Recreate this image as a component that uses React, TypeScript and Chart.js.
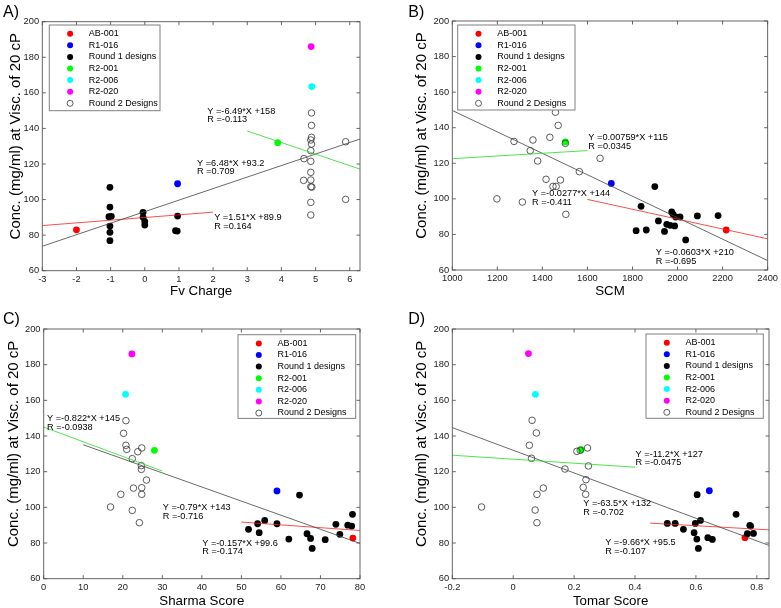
import { useEffect, useRef } from 'react';
import { Chart, registerables } from 'chart.js';

Chart.register(...registerables);

type Pt = [number, number];

// ---------- shared ----------
const LEGEND_LABELS = ['AB-001', 'R1-016', 'Round 1 designs', 'R2-001', 'R2-006', 'R2-020', 'Round 2 Designs'];
const MARKER_COLORS = ['#ff0000', '#0000ff', '#000000', '#00ff00', '#00ffff', '#ff00ff', '#333333'];
const FIT_COLORS = ['#22dd22', '#444444', '#ff2020']; // round 2 fit, all-data fit, round 1 fit
const Y_TICKS = [60, 80, 100, 120, 140, 160, 180, 200];
const Y_TICK_LABELS = ['60', '80', '100', '120', '140', '160', '180', '200'];
const Y_TITLE = 'Conc. (mg/ml) at Visc. of 20 cP';

// ---------- Panel A: Fv Charge ----------
const A_X_TICKS = [-3, -2, -1, 0, 1, 2, 3, 4, 5, 6];
const A_X_TICK_LABELS = ['-3', '-2', '-1', '0', '1', '2', '3', '4', '5', '6'];
const A_AB001: Pt[] = [[-2, 83]];
const A_R1016: Pt[] = [[0.96, 108.9]];
const A_ROUND1: Pt[] = [
  [-1.02, 106.9], [-1.02, 95.8], [-1.05, 90.4], [-0.98, 90.6], [-1.02, 85.1], [-1.02, 81.6], [-1.02, 76.9],
  [-0.05, 92.8], [-0.05, 90], [0, 87.6], [0, 85.7], [0.96, 90.7], [0.9, 82.5], [0.95, 82.3],
];
const A_R2001: Pt[] = [[3.89, 132]];
const A_R2006: Pt[] = [[4.89, 163.5]];
const A_R2020: Pt[] = [[4.87, 186]];
const A_ROUND2: Pt[] = [
  [4.88, 148.7], [4.88, 141.7], [4.88, 135], [4.86, 133.5], [4.88, 131.2], [4.86, 127.5], [4.86, 121.5],
  [4.86, 115.3], [4.86, 111], [4.86, 107.2], [4.89, 107.0], [4.86, 98.4], [4.86, 91.3], [4.66, 123],
  [4.65, 110.8], [5.88, 132.5], [5.88, 100.1],
];
const A_FIT_SLOPES = [-6.49, 6.48, 1.51];
const A_FIT_INTERCEPTS = [158, 93.2, 89.9];
const A_FIT_R = [-0.113, 0.709, 0.164];
const A_FIT_FROM = [3, -3, -3];
const A_FIT_TO = [6.3, 6.3, 2];

// ---------- Panel B: SCM ----------
const B_X_TICKS = [1000, 1200, 1400, 1600, 1800, 2000, 2200, 2400];
const B_X_TICK_LABELS = ['1000', '1200', '1400', '1600', '1800', '2000', '2200', '2400'];
const B_AB001: Pt[] = [[2216, 82.5]];
const B_R1016: Pt[] = [[1706, 108.7]];
const B_ROUND1: Pt[] = [
  [1816, 82.1], [1838, 95.8], [1861, 82.5], [1899, 106.9], [1915, 87.6], [1942, 81.7], [1952, 85.7],
  [1967, 85.1], [1974, 92.6], [1980, 91.3], [1987, 84.8], [1992, 89.8], [2011, 89.8], [2036, 76.9],
  [2088, 90.4], [2180, 90.6],
];
const B_R2001: Pt[] = [[1502, 132]];
const B_R2006: Pt[] = [];
const B_R2020: Pt[] = [];
const B_ROUND2: Pt[] = [
  [1458, 148.7], [1470, 141.3], [1433, 134.6], [1358, 133.1], [1274, 132.3], [1502, 131.2], [1346, 127.1],
  [1379, 121.3], [1656, 122.8], [1564, 115.3], [1416, 111], [1480, 110.6], [1447, 107], [1461, 107],
  [1198, 100], [1311, 98.2], [1504, 91.3],
];
const B_FIT_SLOPES = [0.00759, -0.0603, -0.0277];
const B_FIT_INTERCEPTS = [115, 210, 144];
const B_FIT_R = [0.0345, -0.695, -0.411];
const B_FIT_FROM = [1000, 1000, 1600];
const B_FIT_TO = [1600, 2400, 2400];

// ---------- Panel C: Sharma Score ----------
const C_X_TICKS = [0, 10, 20, 30, 40, 50, 60, 70, 80];
const C_X_TICK_LABELS = ['0', '10', '20', '30', '40', '50', '60', '70', '80'];
const C_AB001: Pt[] = [[78.2, 82.8]];
const C_R1016: Pt[] = [[59, 109.2]];
const C_ROUND1: Pt[] = [
  [51.8, 87.7], [54.1, 90.8], [54.5, 85.8], [55.9, 92.7], [59, 90.8], [62, 82.2], [64.7, 106.9],
  [66.6, 85.2], [67.5, 82.6], [67.9, 77], [71.2, 81.9], [73.9, 90.5], [74.9, 84.9], [76.9, 90],
  [77.9, 89.5], [78.1, 96.1],
];
const C_R2001: Pt[] = [[28, 132]];
const C_R2006: Pt[] = [[20.7, 163.4]];
const C_R2020: Pt[] = [[22.3, 186]];
const C_ROUND2: Pt[] = [
  [20.8, 148.6], [20.2, 141.5], [20.8, 134.8], [21, 132.5], [23.8, 131.2], [24.8, 133.3], [22.4, 127.3],
  [24.7, 123.4], [24.7, 121.3], [26, 115.3], [22.7, 110.8], [24.8, 111], [24.8, 107.3], [19.5, 107.3],
  [16.9, 100.2], [22.4, 98.3], [24.2, 91.4],
];
const C_FIT_SLOPES = [-0.822, -0.79, -0.157];
const C_FIT_INTERCEPTS = [145, 143, 99.6];
const C_FIT_R = [-0.0938, -0.716, -0.174];
const C_FIT_FROM = [0, 10, 50];
const C_FIT_TO = [30, 80, 80];

// ---------- Panel D: Tomar Score ----------
const D_X_TICKS = [-0.2, 0, 0.2, 0.4, 0.6, 0.8];
const D_X_TICK_LABELS = ['-0.2', '0', '0.2', '0.4', '0.6', '0.8'];
const D_AB001: Pt[] = [[0.761, 83]];
const D_R1016: Pt[] = [[0.644, 109.3]];
const D_ROUND1: Pt[] = [
  [0.506, 91], [0.532, 91], [0.559, 87.7], [0.594, 85.8], [0.598, 91], [0.603, 82.2], [0.604, 107.1],
  [0.608, 77], [0.615, 92.7], [0.639, 83], [0.654, 82], [0.732, 96.1], [0.769, 85.2], [0.777, 89.9],
  [0.78, 89.5], [0.789, 85.4],
];
const D_R2001: Pt[] = [[0.223, 132.3]];
const D_R2006: Pt[] = [[0.073, 163.4]];
const D_R2020: Pt[] = [[0.05, 186.2]];
const D_ROUND2: Pt[] = [
  [0.062, 148.8], [0.076, 141.7], [0.053, 134.8], [0.06, 127.5], [0.209, 131.4], [0.244, 133.3], [0.22, 132],
  [0.247, 123.2], [0.17, 121.5], [0.239, 115.5], [0.099, 110.8], [0.23, 111.2], [0.078, 107.3], [0.238, 107.3],
  [-0.104, 100.2], [0.072, 98.5], [0.078, 91.4],
];
const D_FIT_SLOPES = [-11.2, -63.5, -9.66];
const D_FIT_INTERCEPTS = [127, 132, 95.5];
const D_FIT_R = [-0.0475, -0.702, -0.107];
const D_FIT_FROM = [-0.2, -0.2, 0.45];
const D_FIT_TO = [0.4, 0.84, 0.84];

// ---------- layout (positions only) ----------
const FONT = "'Liberation Sans', Arial, Helvetica, sans-serif";

const PANELS = [
  {
    id: 'A', label: 'A)', xTitle: 'Fv Charge',
    canvas: { left: 0, top: 0, w: 390, h: 304 },
    area: { left: 42.3, right: 360, top: 21.7, bottom: 270.7 },
    xMin: -3, xMax: 6.3, xTicks: A_X_TICKS, xTickLabels: A_X_TICK_LABELS,
    groups: [A_AB001, A_R1016, A_ROUND1, A_R2001, A_R2006, A_R2020, A_ROUND2],
    fit: { s: A_FIT_SLOPES, b: A_FIT_INTERCEPTS, r: A_FIT_R, from: A_FIT_FROM, to: A_FIT_TO },
    notes: [[1.83, 149.8], [1.53, 120.5], [2.03, 90]],
    legend: { x: 49.3, y: 25, w: 110.7, h: 85.7 },
    labelPos: [3, 16.7], yTitleX: 15.4, xTitlePad: 5.9,
  },
  {
    id: 'B', label: 'B)', xTitle: 'SCM',
    canvas: { left: 390, top: 0, w: 391, h: 304 },
    area: { left: 62.3, right: 379, top: 21, bottom: 270 },
    xMin: 1000, xMax: 2400, xTicks: B_X_TICKS, xTickLabels: B_X_TICK_LABELS,
    groups: [B_AB001, B_R1016, B_ROUND1, B_R2001, B_R2006, B_R2020, B_ROUND2],
    fit: { s: B_FIT_SLOPES, b: B_FIT_INTERCEPTS, r: B_FIT_R, from: B_FIT_FROM, to: B_FIT_TO },
    notes: [[1604, 134.6], [1903, 70], [1354, 103.1]],
    legend: { x: 67.7, y: 25, w: 117.3, h: 85 },
    labelPos: [18.3, 16.7], yTitleX: 32.1, xTitlePad: 6,
  },
  {
    id: 'C', label: 'C)', xTitle: 'Sharma Score',
    canvas: { left: 0, top: 304, w: 390, h: 304 },
    area: { left: 43.7, right: 360, top: 25, bottom: 274.7 },
    xMin: 0, xMax: 80, xTicks: C_X_TICKS, xTickLabels: C_X_TICK_LABELS,
    groups: [C_AB001, C_R1016, C_ROUND1, C_R2001, C_R2006, C_R2020, C_ROUND2],
    fit: { s: C_FIT_SLOPES, b: C_FIT_INTERCEPTS, r: C_FIT_R, from: C_FIT_FROM, to: C_FIT_TO },
    notes: [[0.84, 149.9], [30.1, 99.8], [40.1, 80]],
    legend: { x: 238, y: 30.7, w: 117.7, h: 83.7 },
    labelPos: [3, 19.7], yTitleX: 13.8, xTitlePad: 0,
  },
  {
    id: 'D', label: 'D)', xTitle: 'Tomar Score',
    canvas: { left: 390, top: 304, w: 391, h: 304 },
    area: { left: 62.3, right: 379, top: 25, bottom: 274.7 },
    xMin: -0.2, xMax: 0.84, xTicks: D_X_TICKS, xTickLabels: D_X_TICK_LABELS,
    groups: [D_AB001, D_R1016, D_ROUND1, D_R2001, D_R2006, D_R2020, D_ROUND2],
    fit: { s: D_FIT_SLOPES, b: D_FIT_INTERCEPTS, r: D_FIT_R, from: D_FIT_FROM, to: D_FIT_TO },
    notes: [[0.402, 129.9], [0.23, 102.1], [0.302, 80.4]],
    legend: { x: 256, y: 30, w: 117.3, h: 84.3 },
    labelPos: [18.3, 19.7], yTitleX: 32.1, xTitlePad: 0,
  },
];

type PanelCfg = (typeof PANELS)[number];

const TICK_LEN = 3.5;
const NOTE_LINE_GAP = 8.8;

function makeDecorPlugin(p: PanelCfg) {
  return {
    id: 'decor' + p.id,
    afterDraw(chart: any) {
      const ctx: CanvasRenderingContext2D = chart.ctx;
      const { left, right, top, bottom } = chart.chartArea;
      const xs = chart.scales.x;
      const ys = chart.scales.y;
      ctx.save();

      // box + inward ticks on all four sides
      ctx.strokeStyle = '#555555';
      ctx.lineWidth = 0.9;
      ctx.strokeRect(left, top, right - left, bottom - top);
      ctx.beginPath();
      xs.ticks.forEach((t: any) => {
        const px = xs.getPixelForValue(t.value);
        ctx.moveTo(px, bottom); ctx.lineTo(px, bottom - TICK_LEN);
        ctx.moveTo(px, top); ctx.lineTo(px, top + TICK_LEN);
      });
      ys.ticks.forEach((t: any) => {
        const py = ys.getPixelForValue(t.value);
        ctx.moveTo(left, py); ctx.lineTo(left + TICK_LEN, py);
        ctx.moveTo(right, py); ctx.lineTo(right - TICK_LEN, py);
      });
      ctx.stroke();

      // fit annotations
      ctx.fillStyle = '#000';
      ctx.font = `9.2px ${FONT}`;
      ctx.textAlign = 'left';
      ctx.textBaseline = 'middle';
      p.notes.forEach((n, i) => {
        const px = xs.getPixelForValue(n[0]);
        const py = ys.getPixelForValue(n[1]);
        ctx.fillText(`Y =${p.fit.s[i]}*X +${p.fit.b[i]}`, px, py);
        ctx.fillText(`R =${p.fit.r[i]}`, px, py + NOTE_LINE_GAP);
      });

      // legend box
      const L = p.legend;
      ctx.fillStyle = '#ffffff';
      ctx.fillRect(L.x, L.y, L.w, L.h);
      ctx.strokeStyle = '#808080';
      ctx.lineWidth = 1;
      ctx.strokeRect(L.x, L.y, L.w, L.h);
      ctx.font = `9px ${FONT}`;
      const entries = chart.data.datasets.filter((d: any) => !d.isFit);
      entries.sort((a: any, b: any) => a.legendIndex - b.legendIndex);
      entries.forEach((d: any, k: number) => {
        const cy = L.y + 8.7 + k * 11.6;
        const cx = L.x + 20.8;
        ctx.beginPath();
        ctx.arc(cx, cy, 3, 0, Math.PI * 2);
        if (d.isOpen) {
          ctx.strokeStyle = '#333';
          ctx.lineWidth = 0.8;
          ctx.stroke();
        } else {
          ctx.fillStyle = d.backgroundColor;
          ctx.fill();
        }
        ctx.fillStyle = '#000';
        ctx.fillText(d.label, L.x + 39.5, cy);
      });

      // y title
      ctx.save();
      ctx.translate(p.yTitleX, (top + bottom) / 2 - 10);
      ctx.rotate(-Math.PI / 2);
      ctx.textAlign = 'center';
      ctx.textBaseline = 'middle';
      ctx.font = `15px ${FONT}`;
      ctx.fillStyle = '#000';
      ctx.fillText(Y_TITLE, 0, 0);
      ctx.restore();

      // panel label
      ctx.font = `16px ${FONT}`;
      ctx.textAlign = 'left';
      ctx.textBaseline = 'alphabetic';
      ctx.fillStyle = '#000';
      ctx.fillText(p.label, p.labelPos[0], p.labelPos[1]);

      ctx.restore();
    },
  };
}

function buildDatasets(p: PanelCfg) {
  const ds: any[] = [];
  p.fit.s.forEach((s, i) => {
    const x0 = p.fit.from[i];
    const x1 = p.fit.to[i];
    ds.push({
      label: '',
      isFit: true,
      data: [{ x: x0, y: s * x0 + p.fit.b[i] }, { x: x1, y: s * x1 + p.fit.b[i] }],
      showLine: true,
      pointRadius: 0,
      pointHoverRadius: 0,
      borderColor: FIT_COLORS[i],
      borderWidth: 0.8,
      fill: false,
      order: 0,
    });
  });
  p.groups.forEach((g, i) => {
    const open = i === 6;
    ds.push({
      label: LEGEND_LABELS[i],
      legendIndex: i,
      isOpen: open,
      data: g.map(([x, y]) => ({ x, y })),
      showLine: false,
      pointRadius: open ? 3.3 : 3.4,
      pointHoverRadius: 3.4,
      backgroundColor: open ? 'rgba(0,0,0,0)' : MARKER_COLORS[i],
      borderColor: open ? '#333333' : MARKER_COLORS[i],
      borderWidth: open ? 0.8 : 0,
      order: open ? 1 : 8 - i,
    });
  });
  return ds;
}

function Panel({ p }: { p: PanelCfg }) {
  const ref = useRef<HTMLCanvasElement | null>(null);
  useEffect(() => {
    if (!ref.current) return;
    const { w, h } = p.canvas;
    const a = p.area;
    const chart = new Chart(ref.current, {
      type: 'scatter',
      data: { datasets: buildDatasets(p) },
      options: {
        responsive: false,
        animation: false,
        events: [],
        layout: { padding: { left: 0, top: a.top, right: w - a.right, bottom: 0 } },
        plugins: { legend: { display: false }, tooltip: { enabled: false }, title: { display: false } },
        scales: {
          x: {
            type: 'linear',
            min: p.xMin,
            max: p.xMax,
            grid: { display: false, drawTicks: false },
            border: { display: false },
            afterBuildTicks: (scale: any) => {
              scale.ticks = p.xTicks.map((v) => ({ value: v }));
            },
            afterFit: (scale: any) => {
              scale.height = h - a.bottom;
            },
            ticks: {
              autoSkip: false,
              maxRotation: 0,
              padding: 3,
              color: '#222',
              font: { family: FONT, size: 9.3 },
              callback: (_v: any, i: number) => p.xTickLabels[i],
            },
            title: {
              display: true,
              text: p.xTitle,
              color: '#000',
              font: { family: FONT, size: 13.3, lineHeight: 1 },
              padding: { top: 0, bottom: p.xTitlePad },
            },
          },
          y: {
            type: 'linear',
            min: 60,
            max: 200,
            grid: { display: false, drawTicks: false },
            border: { display: false },
            afterBuildTicks: (scale: any) => {
              scale.ticks = Y_TICKS.map((v) => ({ value: v }));
            },
            afterFit: (scale: any) => {
              scale.width = a.left;
            },
            ticks: {
              autoSkip: false,
              padding: 3.2,
              color: '#222',
              font: { family: FONT, size: 9.3 },
              callback: (_v: any, i: number) => Y_TICK_LABELS[i],
            },
          },
        },
      },
      plugins: [makeDecorPlugin(p)],
    } as any);
    return () => chart.destroy();
  }, [p]);
  return (
    <canvas
      ref={ref}
      width={p.canvas.w}
      height={p.canvas.h}
      style={{
        position: 'absolute',
        left: p.canvas.left,
        top: p.canvas.top,
        width: p.canvas.w,
        height: p.canvas.h,
      }}
    />
  );
}

export default function App() {
  return (
    <div style={{ position: 'absolute', left: 0, top: 0, width: 781, height: 608, background: '#fff' }}>
      {PANELS.map((p) => (
        <Panel key={p.id} p={p} />
      ))}
    </div>
  );
}
